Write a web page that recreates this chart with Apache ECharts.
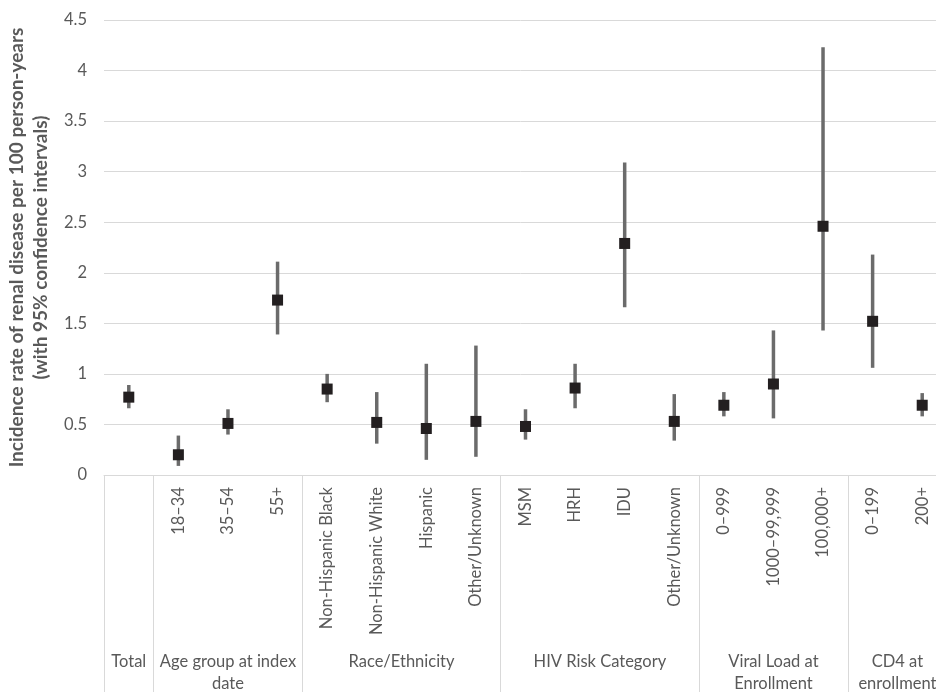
<!DOCTYPE html>
<html>
<head>
<meta charset="utf-8">
<script src="https://cdn.jsdelivr.net/npm/echarts@6/dist/echarts.min.js"></script>
<style>
html,body{margin:0;padding:0;background:#fff;overflow:hidden;}
#chart{width:936px;height:692px;}
</style>
</head>
<body>
<div id="chart"></div>
<script>
// Sub-category labels (bottom axis, rotated)
const categories = ['', '18–34', '35–54', '55+', 'Non-Hispanic Black', 'Non-Hispanic White', 'Hispanic', 'Other/Unknown', 'MSM', 'HRH', 'IDU', 'Other/Unknown', '0–999', '1000–99,999', '100,000+', '0–199', '200+'];
// Group labels and how many sub-categories each spans
const groupNames = ['Total', 'Age group at index\ndate', 'Race/Ethnicity', 'HIV Risk Category', 'Viral Load at\nEnrollment', 'CD4 at\nenrollment'];
const groupSizes = [1, 3, 4, 4, 3, 2];
// Incidence rate and 95% CI
const rate  = [0.77, 0.20, 0.51, 1.73, 0.85, 0.52, 0.46, 0.53, 0.48, 0.86, 2.29, 0.53, 0.69, 0.90, 2.46, 1.52, 0.69];
const lower = [0.66, 0.09, 0.40, 1.39, 0.72, 0.31, 0.15, 0.18, 0.35, 0.66, 1.66, 0.34, 0.58, 0.56, 1.43, 1.06, 0.58];
const upper = [0.89, 0.39, 0.65, 2.11, 1.00, 0.82, 1.10, 1.28, 0.65, 1.10, 3.09, 0.80, 0.82, 1.43, 4.23, 2.18, 0.81];
const yTicks = [0, 0.5, 1, 1.5, 2, 2.5, 3, 3.5, 4, 4.5];

const FONT = 'Lato, "Noto Sans", sans-serif';
const TXT = '#595959';
const GRIDC = '#d9d9d9';

// group boundaries and centers (in category units)
const bounds = [0];
groupSizes.forEach(s => bounds.push(bounds[bounds.length - 1] + s));
const centers = groupSizes.map((s, i) => bounds[i] + s / 2);

const chart = echarts.init(document.getElementById('chart'), null, {renderer: 'canvas'});
chart.setOption({
  backgroundColor: '#fff',
  animation: false,
  grid: {left: 104, width: 843, top: 20, height: 455, containLabel: false, outerBoundsMode: 'none'},
  xAxis: [
    {
      type: 'category',
      data: categories,
      boundaryGap: true,
      axisLine: {show: true, lineStyle: {color: GRIDC, width: 1}},
      axisTick: {show: false},
      axisLabel: {rotate: 90, margin: 12, fontSize: 16.5, color: TXT, fontFamily: FONT, interval: 0},
      splitLine: {show: false}
    },
    {
      type: 'value',
      min: 0,
      max: categories.length,
      interval: 0.5,
      position: 'bottom',
      axisLine: {show: false},
      axisTick: {show: true, customValues: bounds, length: 217, inside: false, lineStyle: {color: GRIDC, width: 1}},
      axisLabel: {
        show: true,
        customValues: centers,
        margin: 176,
        fontSize: 16.5,
        lineHeight: 22,
        color: TXT,
        fontFamily: FONT,
        verticalAlign: 'top',
        align: 'center',
        formatter: v => {
          const i = centers.findIndex(c => Math.abs(c - v) < 1e-6);
          return i >= 0 ? groupNames[i] : '';
        }
      },
      splitLine: {show: false}
    }
  ],
  yAxis: {
    type: 'value',
    min: yTicks[0],
    max: yTicks[yTicks.length - 1],
    interval: 0.5,
    axisLine: {show: false},
    axisTick: {show: false},
    axisLabel: {margin: 17, fontSize: 16.5, color: TXT, fontFamily: FONT, formatter: v => String(v)},
    splitLine: {show: true, lineStyle: {color: GRIDC, width: 1}},
    name: 'Incidence rate of renal disease per 100 person-years\n(with 95% confidence intervals)',
    nameLocation: 'middle',
    nameGap: 44,
    nameTextStyle: {fontSize: 19, fontWeight: 'bold', color: TXT, fontFamily: FONT, lineHeight: 24}
  },
  series: [
    {
      type: 'custom',
      xAxisIndex: 0,
      yAxisIndex: 0,
      data: categories.map((c, i) => [i, lower[i], upper[i]]),
      renderItem: (params, api) => {
        const p1 = api.coord([api.value(0), api.value(1)]);
        const p2 = api.coord([api.value(0), api.value(2)]);
        return {
          type: 'line',
          shape: {x1: p1[0], y1: p1[1], x2: p2[0], y2: p2[1]},
          style: {stroke: '#6b6b6b', lineWidth: 3.5}
        };
      },
      z: 2
    },
    {
      type: 'scatter',
      xAxisIndex: 0,
      yAxisIndex: 0,
      data: rate.map((v, i) => [i, v]),
      symbol: 'rect',
      symbolSize: 11,
      itemStyle: {color: '#231f20', opacity: 1},
      z: 3
    }
  ]
});
</script>
</body>
</html>
